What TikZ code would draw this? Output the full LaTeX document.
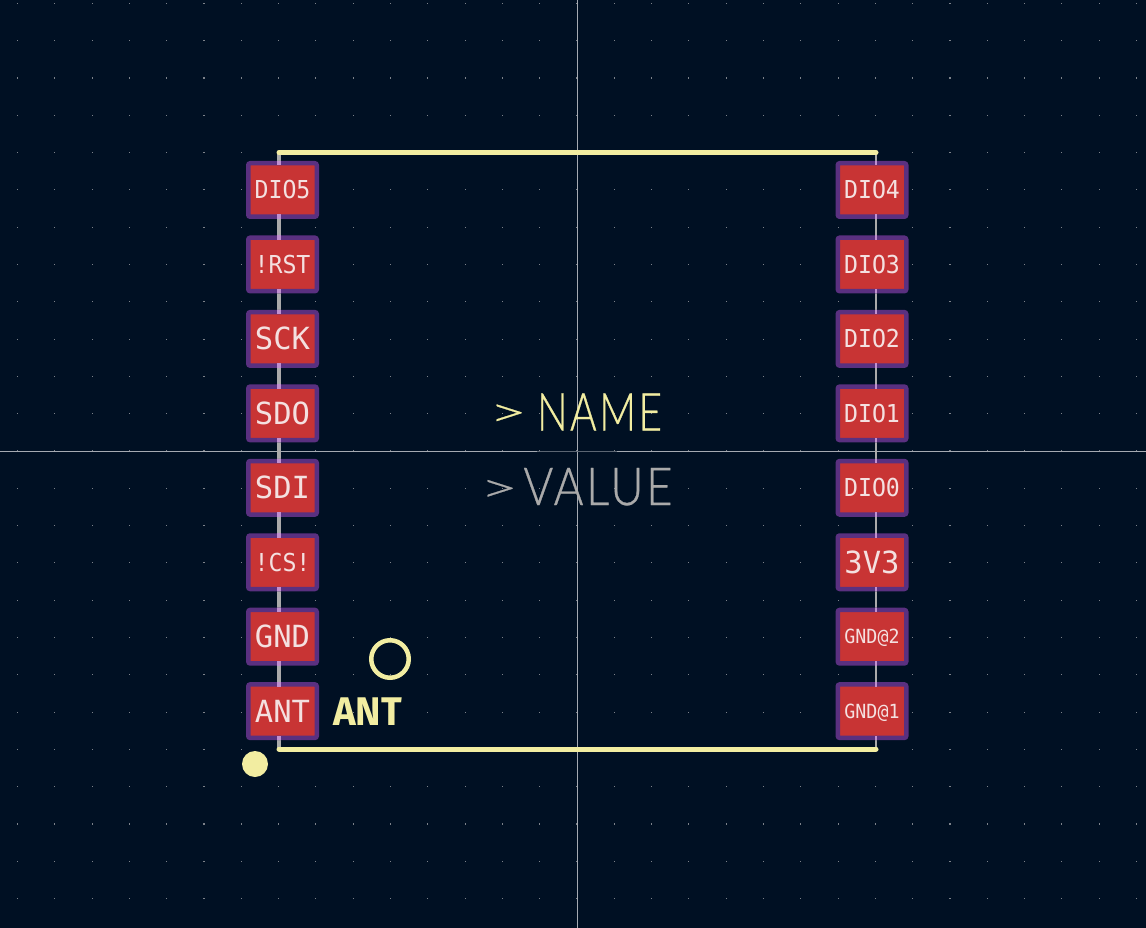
\documentclass[tikz,border=0pt]{standalone}
\usepackage{fontspec}
\usepackage{graphicx}
\usepackage{tikz}
\usetikzlibrary{positioning}
\newfontfamily\padfont{DejaVu Sans Mono}
\newfontfamily\padnarrow[FakeStretch=0.94]{DejaVu Sans Mono}
\newfontfamily\fabfont[FakeBold=0.6,LetterSpace=6]{Lato Light}
\newfontfamily\silkfont[FakeStretch=0.96]{Fira Sans}
\definecolor{board}{RGB}{0,16,35}
\definecolor{copper}{RGB}{200,52,52}
\definecolor{padedge}{RGB}{90,48,128}
\definecolor{padlight}{RGB}{192,144,208}
\definecolor{padtext}{RGB}{244,224,224}
\definecolor{silk}{RGB}{242,237,161}
\definecolor{fab}{RGB}{170,170,170}
\definecolor{griddot}{RGB}{125,130,138}
\definecolor{cross}{RGB}{165,170,178}

\begin{document}
\begin{tikzpicture}[x=1pt,y=-1pt,
      pad/.style={rectangle, draw=padedge, fill=copper, line width=4.5pt, rounded corners=2pt,
                minimum width=68.5pt, minimum height=53.5pt, inner sep=0pt, text=padtext},
      padL/.style={pad, font=\padfont\fontsize{30.5pt}{31pt}\selectfont, text height=22pt, text depth=0pt},
      padM/.style={pad, font=\padnarrow\fontsize{24.7pt}{25pt}\selectfont, text height=18pt, text depth=0pt},
      padS/.style={pad, font=\padnarrow\fontsize{19.5pt}{20pt}\selectfont, text height=14pt, text depth=0pt},
      below of pad/.style={below=16.45pt of #1},
      silkline/.style={silk, line width=5pt, line cap=round},
      bigtext/.style={font=\fabfont\fontsize{51pt}{51pt}\selectfont, inner sep=0pt, text height=37pt, text depth=0pt},
      dot/.style={griddot}
    ]
      \useasboundingbox (0,0) rectangle (1146,928);
      \fill[board] (0,0) rectangle (1146,928);

      % grid
      \foreach \i in {-15,...,15}
        \foreach \j in {-12,...,12}
          \fill[dot] ({577+\i*37.3-0.5},{451+\j*37.3-0.5}) rectangle +(1,1);
      \foreach \i in {-10,0,10}
        \foreach \j in {-12,...,12}
          \fill[dot] ({577+\i*37.3-1},{451+\j*37.3-0.5}) rectangle +(2,1);
      \foreach \j in {-10,0,10}
        \foreach \i in {-15,...,15}
          \fill[dot] ({577+\i*37.3-0.5},{451+\j*37.3-1}) rectangle +(1,2);
      \foreach \i in {-10,0,10}
        \foreach \j in {-10,0,10}
          \fill[dot] ({577+\i*37.3-1},{451+\j*37.3-1}) rectangle +(2,2);

      % crosshair
      \draw[cross, line width=1pt] (577,0) -- (577,928);
      \draw[cross, line width=1pt] (0,451) -- (1146,451);
      \draw[cross!55!board, line width=1pt] (537,451) -- (617,451);

      % outline corners
      \coordinate (tl) at (279,152.5);
      \coordinate (tr) at (876,152.5);
      \coordinate (bl) at (279,749);
      \coordinate (br) at (876,749);
      \draw[fab, line width=4pt] (tl) -- (bl);
      \draw[fab, line width=1.5pt] (tr) -- (br);

      % left pads
      \node[padM] (p1) at (282.5,190) {DIO5};
      \node[padM, below of pad=p1] (p2) {!RST};
      \node[padL, below of pad=p2] (p3) {SCK};
      \node[padL, below of pad=p3] (p4) {SDO};
      \node[padL, below of pad=p4] (p5) {SDI};
      \node[padM, below of pad=p5] (p6) {!CS!};
      \node[padL, below of pad=p6] (p7) {GND};
      \node[padL, below of pad=p7] (p8) {ANT};
      % right pads
      \node[padM] (q1) at (872,190) {DIO4};
      \node[padM, below of pad=q1] (q2) {DIO3};
      \node[padM, below of pad=q2] (q3) {DIO2};
      \node[padM, below of pad=q3] (q4) {DIO1};
      \node[padM, below of pad=q4] (q5) {DIO0};
      \node[padL, below of pad=q5] (q6) {3V3};
      \node[padS, below of pad=q6] (q7) {GND@2};
      \node[padS, below of pad=q7] (q8) {GND@1};

      % fab line seen through the pad edge
      \foreach \k in {1,...,8} {
        \fill[padlight] ([xshift=-5.5pt]p\k.north) rectangle ([xshift=-1.5pt,yshift=-4.5pt]p\k.north);
        \fill[padlight] ([xshift=-5.5pt]p\k.south) rectangle ([xshift=-1.5pt,yshift=4.5pt]p\k.south);
        \fill[padlight] ([xshift=3.25pt]q\k.north) rectangle ([xshift=4.75pt,yshift=-4.5pt]q\k.north);
        \fill[padlight] ([xshift=3.25pt]q\k.south) rectangle ([xshift=4.75pt,yshift=4.5pt]q\k.south);
      }

      % silkscreen
      \draw[silkline] (tl) -- (tr);
      \draw[silkline] (bl) -- (br);
      \node[circle, fill=silk, minimum size=26pt, inner sep=0pt] (pin) at (255,764) {};
      \node[circle, draw=silk, line width=4.5pt, minimum size=37.5pt, inner sep=0pt] (ring) at (390,659) {};
      \node[text=silk, font=\silkfont\bfseries\fontsize{40pt}{40pt}\selectfont, inner sep=0pt, text height=29pt, text depth=0pt] (ant) at (367.5,710.5) {ANT};

      % reference and value
      \node[text=silk, bigtext] (name) at (575.5,412) {\raisebox{4pt}{\resizebox{38pt}{22pt}{>}}\hspace{10pt}\resizebox{125pt}{37pt}{NAME}};
      \node[text=fab, bigtext] (value) at (576.25,486.5) {\raisebox{3pt}{\resizebox{38pt}{22pt}{>}}\hspace{5.5pt}\resizebox{149pt}{37pt}{VALUE}};
    \end{tikzpicture}
\end{document}
